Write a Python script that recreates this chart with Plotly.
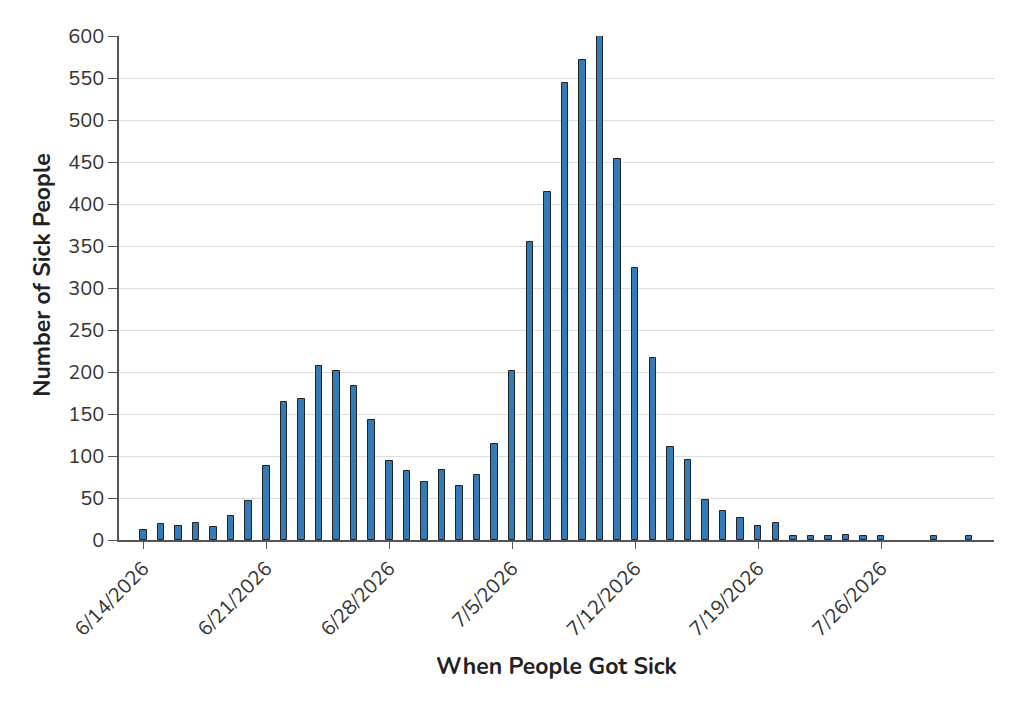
import pandas as pd
import plotly.graph_objects as go

# onset dates and daily case counts (None = no cases that day)
dates = pd.date_range("2026-06-14", "2026-07-31", freq="D")
cases = [12, 19, 17, 20, 15, 28, 47,
         88, 164, 168, 207, 201, 183, 143,
         94, 82, 69, 83, 64, 77, 114,
         201, 355, 414, 544, 572, 600, 453,
         324, 217, 111, 95, 48, 35, 26,
         17, 20, 5, 5, 5, 6, 5,
         5, None, None, 5, None, 5]

y_ticks = list(range(0, 601, 50))
font_family = "Nunito, Lato, 'Open Sans', sans-serif"

fig = go.Figure()
fig.add_trace(go.Bar(
    x=dates, y=cases,
    width=0.37 * 86400000,
    marker=dict(color="#337ab7", line=dict(color="#222222", width=1)),
))

fig.update_xaxes(
    type="date",
    range=["2026-06-12 14:50", "2026-08-01 10:05"],
    tick0="2026-06-14", dtick=7 * 86400000,
    tickformat="%-m/%-d/%Y",
    tickangle=-45,
    ticks="outside", ticklen=7, tickcolor="#555555",
    showline=True, linecolor="#555555", linewidth=1.5,
    showgrid=False,
    automargin=False,
    tickfont=dict(size=20, color="#333333"),
    title_text="<b>When People Got Sick</b>",
    title_font=dict(size=23, color="#222222"),
    title_standoff=17,
)
fig.update_yaxes(
    range=[0, 600],
    tickvals=y_ticks,
    ticks="outside", ticklen=9, tickcolor="#555555",
    showline=True, linecolor="#555555", linewidth=1.5,
    gridcolor="#dddddd", gridwidth=1,
    zeroline=False,
    automargin=False,
    tickfont=dict(size=20, color="#333333"),
)
# y title sits a little above the plot's middle, so place it by hand
fig.add_annotation(
    text="<b>Number of Sick People</b>",
    xref="paper", yref="paper", x=-0.087, y=0.526,
    xanchor="center", yanchor="middle",
    textangle=-90, showarrow=False,
    font=dict(size=23, color="#222222"),
)
fig.update_layout(
    width=1024, height=705,
    margin=dict(l=111, r=38, t=28, b=173),
    plot_bgcolor="white", paper_bgcolor="white",
    font=dict(family=font_family),
    showlegend=False,
    bargap=0,
)
fig.write_html("out.html")
